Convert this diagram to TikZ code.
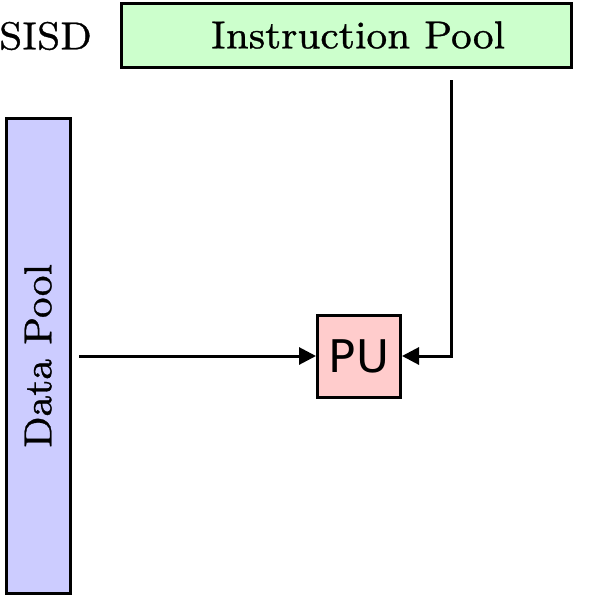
\documentclass[tikz,border=0pt]{standalone}
\usepackage{fontspec}
\newfontfamily\pufont{DejaVu Sans}
\newfontfamily\lmsix{lmroman8-regular}[Extension=.otf,FakeBold=0.8]
\usetikzlibrary{arrows.meta}
\definecolor{ipool}{RGB}{204,255,204}
\definecolor{dpool}{RGB}{204,204,255}
\definecolor{pucol}{RGB}{255,204,204}
\begin{document}
\begin{tikzpicture}[x=1pt,y=-1pt,
  box/.style={draw=black,line width=3pt},
  conn/.style={line width=3pt,-{Triangle[length=17pt,width=17pt]}},
  bigtxt/.style={font=\lmsix\fontsize{39}{41}\selectfont}]
\useasboundingbox (0,0) rectangle (600,597);
\draw[box,fill=ipool] (121,3) rectangle (571,67);
\node[bigtxt] (ip) at (358,35) {Instruction Pool};
\draw[box,fill=dpool] (6,118) rectangle (70,593);
\node[bigtxt,rotate=90] (dp) at (38,356) {Data Pool};
\node[box,fill=pucol,minimum width=83pt,minimum height=82pt,inner sep=0pt,font=\pufont\fontsize{45}{47}\selectfont] (pu) at (359,356) {PU};
\node[bigtxt,anchor=west,inner sep=0pt] (sisd) at (-1,36) {SISD};
\coordinate (istart) at (451,80);
\coordinate (dstart) at (79,356);
\draw[conn] (istart) |- (pu.east);
\draw[conn] (dstart) -- (pu.west);
\end{tikzpicture}
\end{document}
